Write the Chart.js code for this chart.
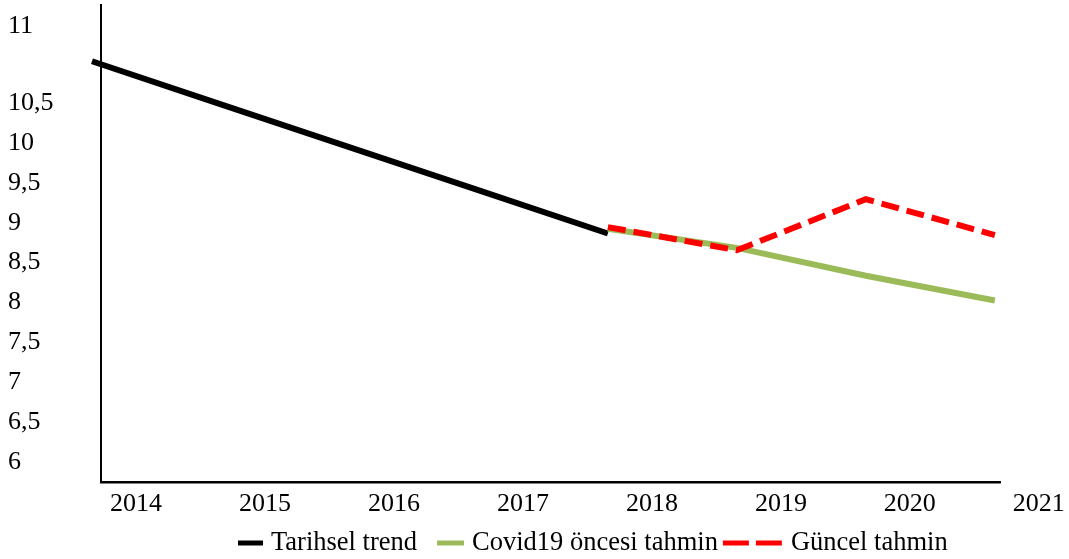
<!DOCTYPE html>
<html>
<head>
<meta charset="utf-8">
<script src="https://cdn.jsdelivr.net/npm/chart.js@4"></script>
<style>
    html, body { margin: 0; padding: 0; background: #fff; }
    #chart { width: 1069px; height: 559px; }
</style>
</head>
<body>
<div id="chart"><canvas id="myChart" width="1069" height="559"></canvas></div>
<script>
const years = [2014, 2015, 2016, 2017, 2018, 2019, 2020, 2021];
const historical = [11, 10.46, 9.92, 9.38, 8.84, null, null, null];
const preCovid = [null, null, null, null, 8.9, 8.66, 8.31, 8.0];
const current = [null, null, null, null, 8.92, 8.63, 9.27, 8.82];
const yTicks = [6, 6.5, 7, 7.5, 8, 8.5, 9, 9.5, 10, 10.5, 11];

const font = { family: 'Liberation Serif', size: 26 };

function points(values) {
    let out = [];
    values.forEach((v, i) => {
        if (v !== null) out.push({ x: years[i], y: v });
    });
    return out;
}

const legendItems = [
    { text: 'Tarihsel trend', color: '#000000', width: 25, dash: [], after: 20 },
    { text: 'Covid19 öncesi tahmin', color: '#9BBB59', width: 27, dash: [], after: 5 },
    { text: 'Güncel tahmin', color: '#FF0000', width: 60, dash: [26, 7], after: 0 }
];

// legend drawn by hand: the items have different swatch lengths
const legendPlugin = {
    id: 'customLegend',
    afterDraw(chart) {
        const ctx = chart.ctx;
        const y = 543;
        let x = 238;
        ctx.save();
        ctx.font = '26.5px ' + font.family;
        ctx.textBaseline = 'middle';
        ctx.fillStyle = '#000';
        legendItems.forEach(item => {
            ctx.beginPath();
            ctx.setLineDash(item.dash);
            ctx.lineWidth = 5;
            ctx.lineCap = 'butt';
            ctx.strokeStyle = item.color;
            ctx.moveTo(x, y);
            ctx.lineTo(x + item.width, y);
            ctx.stroke();
            x += item.width + 8;
            ctx.fillText(item.text, x, y);
            x += ctx.measureText(item.text).width + item.after;
        });
        ctx.restore();
    }
};

const config = {
    type: 'line',
    data: {
        datasets: [
            {
                label: 'Tarihsel trend',
                data: points(historical),
                borderColor: '#000000',
                backgroundColor: '#000000',
                borderWidth: 6,
                order: 2
            },
            {
                label: 'Covid19 öncesi tahmin',
                data: points(preCovid),
                borderColor: '#9BBB59',
                backgroundColor: '#9BBB59',
                borderWidth: 6,
                order: 1
            },
            {
                label: 'Güncel tahmin',
                data: points(current),
                borderColor: '#FF0000',
                backgroundColor: '#FF0000',
                borderWidth: 6,
                borderDash: [18, 8],
                order: 0
            }
        ]
    },
    options: {
        responsive: false,
        animation: false,
        clip: false,
        elements: {
            point: { radius: 0 },
            line: { tension: 0, borderCapStyle: 'butt' }
        },
        layout: {
            padding: { left: 8, top: 5, right: 69, bottom: 37 }
        },
        plugins: {
            legend: { display: false },
            tooltip: { enabled: false }
        },
        scales: {
            x: {
                type: 'linear',
                min: 2014.07,
                max: 2021.04,
                grid: { display: false },
                border: { display: true, color: '#000', width: 2.5 },
                afterBuildTicks: axis => {
                    axis.ticks = years.map(v => ({ value: v }));
                },
                afterFit: scale => {
                    scale.height = 40;
                    scale.paddingLeft = 0;
                    scale.paddingRight = 0;
                },
                ticks: {
                    autoSkip: false,
                    maxRotation: 0,
                    padding: -1,
                    labelOffset: 44,
                    color: '#000',
                    font: font,
                    callback: v => String(v)
                }
            },
            y: {
                min: 5.724,
                max: 11.705,
                grid: { display: false },
                border: { display: true, color: '#000', width: 2 },
                afterBuildTicks: axis => {
                    // the source prints its top label ("11") one step higher
                    axis.ticks = yTicks.map((v, i) => ({ value: i === yTicks.length - 1 ? v + 0.47 : v }));
                },
                afterFit: scale => {
                    scale.width = 93;
                    scale.paddingTop = 0;
                    scale.paddingBottom = 0;
                },
                ticks: {
                    autoSkip: false,
                    crossAlign: 'far',
                    labelOffset: 2,
                    color: '#000',
                    font: font,
                    callback: (v, i) => String(yTicks[i]).replace('.', ',')
                }
            }
        }
    },
    plugins: [legendPlugin]
};

new Chart(document.getElementById('myChart'), config);
</script>
</body>
</html>
